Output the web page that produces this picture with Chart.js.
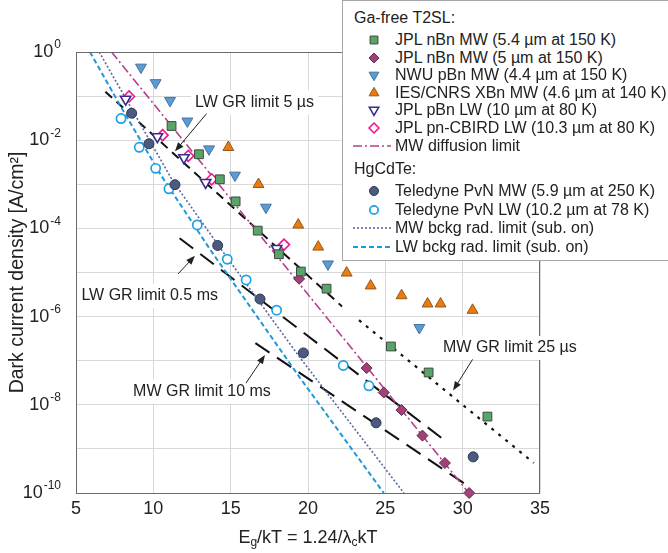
<!DOCTYPE html>
<html>
<head>
<meta charset="utf-8">
<script src="https://cdn.jsdelivr.net/npm/chart.js@4.4.0/dist/chart.umd.min.js"></script>
<style>
  html, body { margin: 0; padding: 0; background: #fff; }
  #wrap { position: relative; width: 668px; height: 553px; font-family: "Liberation Sans", Arial, sans-serif; }
  #legend { position: absolute; left: 342px; top: 0px; width: 340px; height: 261px; background: #fff;
            border: 1px solid #a6a6a6; box-sizing: border-box; color: #222; font-size: 16px; }
  #legend .row { position: absolute; left: 0; height: 18px; line-height: 18px; white-space: nowrap; }
  #legend .hdr { left: 11px; }
  #legend canvas { position: absolute; left: 8px; top: 0; }
  #legend .txt { position: absolute; left: 52px; top: 0; }
</style>
</head>
<body>
<div id="wrap">
  <canvas id="jChart" width="668" height="553"></canvas>
  <div id="legend"></div>
</div>
<script>
// axis ticks
const xTicks = [5, 10, 15, 20, 25, 30, 35];
const yDecades = [1, 1e-1, 1e-2, 1e-3, 1e-4, 1e-5, 1e-6, 1e-7, 1e-8, 1e-9, 1e-10];
const yLabelExp = [0, -2, -4, -6, -8, -10];

// Ga-free T2SL
const jplSqX = [11.18, 12.95, 14.3, 15.32, 16.75, 18.12, 19.54, 21.2, 25.36, 27.8, 31.6];
const jplSqY = [2.1e-2, 4.8e-3, 1.3e-3, 4.1e-4, 8.9e-5, 2.6e-5, 1.05e-5, 4.3e-6, 2.1e-7, 5.4e-8, 5.4e-9];
const jplDiaX = [19.43, 23.79, 24.9, 26.05, 27.4, 28.85, 30.42];
const jplDiaY = [7.2e-6, 6.8e-8, 1.9e-8, 7.6e-9, 2.0e-9, 4.8e-10, 1.0e-10];
const nwuX = [9.2, 10.15, 11.08, 12.2, 13.6, 15.28, 17.28, 21.29, 27.2];
const nwuY = [4.5e-1, 2.0e-1, 7.9e-2, 2.7e-2, 6.3e-3, 1.6e-3, 3.0e-4, 1.55e-5, 5.6e-7];
const iesX = [14.85, 16.8, 19.37, 20.66, 22.5, 24.05, 26.05, 27.73, 28.57, 30.64];
const iesY = [6.9e-3, 1.0e-3, 1.2e-4, 3.8e-5, 9.8e-6, 5.0e-6, 3.0e-6, 1.95e-6, 1.95e-6, 1.4e-6];
const pbnX = [8.21, 10.26, 11.98, 13.38, 17.97];
const pbnY = [8.5e-2, 1.2e-2, 4.0e-3, 1.1e-3, 3.5e-5];
const cbirdX = [8.43, 10.6, 12.26, 13.77, 18.45];
const cbirdY = [9.8e-2, 1.3e-2, 4.4e-3, 1.3e-3, 4.3e-5];
const mwDiffX = [7.3, 30.4];
const mwDiffY = [1, 1e-10];

// HgCdTe
const tdyMwX = [8.6, 9.72, 11.4, 14.16, 16.9, 19.7, 24.4, 30.68];
const tdyMwY = [4.1e-2, 8.3e-3, 9.8e-4, 4.1e-5, 2.5e-6, 1.5e-7, 3.9e-9, 6.6e-10];
const tdyLwX = [7.91, 9.09, 10.15, 11.01, 12.84, 14.78, 16.0, 17.97, 22.28, 23.94];
const tdyLwY = [3.1e-2, 6.9e-3, 2.3e-3, 7.9e-4, 1.2e-4, 2.0e-5, 6.8e-6, 1.4e-6, 7.8e-8, 2.7e-8];
const mwBkgX = [6.5, 11.25, 14.4, 19.5, 26.2];
const mwBkgY = [1, 1.2e-3, 3.3e-5, 1.15e-7, 1e-10];
const lwBkgX = [5.9, 8.0, 10.5, 13.7, 19.5, 24.9];
const lwBkgY = [1, 5e-2, 1.6e-3, 3.2e-5, 4e-8, 1e-10];

// GR limits
const lwGr5usX = [6.9, 22.2];
const lwGr5usY = [1.26e-1, 1.7e-6];
const mwGr25usX = [23.3, 34.6];
const mwGr25usY = [8.3e-7, 4.8e-10];
const lwGr05msX = [11.7, 28.8];
const lwGr05msY = [6.0e-5, 1.6e-9];
const mwGr10msX = [16.6, 30.4];
const mwGr10msY = [2.5e-7, 1.4e-10];

// text labels with arrows: [text, textX, textY, align, tailX, tailY, headX, headY]
const notes = [
    ['LW GR limit 5 µs', 12.69, 7.2e-2, 'left', 13.44, 4.0e-2, 11.4, 5.6e-3],
    ['LW GR limit 0.5 ms', 14.18, 2.95e-6, 'right', 11.6, 9.3e-6, 12.69, 2.4e-5],
    ['MW GR limit 10 ms', 8.69, 2.0e-8, 'left', 15.99, 3.1e-8, 17.22, 1.35e-7],
    ['MW GR limit 25 µs', 28.73, 1.95e-7, 'left', 30.64, 1.07e-7, 29.38, 2.1e-8]
];

function pts(xs, ys) {
    return xs.map((x, i) => ({ x: x, y: ys[i] }));
}

function marker(label, xs, ys, style, fill, border, radius, rot, bw, extra) {
    return Object.assign({
        label: label,
        data: pts(xs, ys),
        showLine: false,
        pointStyle: style,
        pointRotation: rot || 0,
        pointRadius: radius,
        pointHoverRadius: radius,
        backgroundColor: fill,
        borderColor: border,
        pointBorderWidth: bw || 1,
        order: 0
    }, extra || {});
}

function line(label, xs, ys, color, width, dash) {
    return {
        label: label,
        data: pts(xs, ys),
        showLine: true,
        pointRadius: 0,
        borderColor: color,
        borderWidth: width,
        borderDash: dash,
        fill: false,
        order: 1
    };
}

const sq = marker('JPL nBn MW (5.4 µm at 150 K)', jplSqX, jplSqY, 'rect', '#5aa469', '#3c4a40', 6.2);
const dia = marker('JPL nBn MW (5 µm at 150 K)', jplDiaX, jplDiaY, 'rectRot', '#a3407a', '#5e2a4a', 5.5, 0, 1, { clip: false });
const nwu = marker('NWU pBn MW (4.4 µm at 150 K)', nwuX, nwuY, 'triangle', '#5b9bd5', '#44729e', 6.3, 180);
const ies = marker('IES/CNRS XBn MW (4.6 µm at 140 K)', iesX, iesY, 'triangle', '#ee7a0c', '#8a5a24', 6.3);
const pbn = marker('JPL pBn LW (10 µm at 80 K)', pbnX, pbnY, 'triangle', '#ffffff', '#3a2c8c', 6, 180, 1.6);
const cbird = marker('JPL pn-CBIRD LW (10.3 µm at 80 K)', cbirdX, cbirdY, 'rectRot', '#ffffff', '#f0188e', 5.5, 0, 1.6);
const mwDiff = line('MW diffusion limit', mwDiffX, mwDiffY, '#b4418a', 1.6, [9, 3, 2, 3]);
const tdyMw = marker('Teledyne PvN MW (5.9 µm at 250 K)', tdyMwX, tdyMwY, 'circle', '#4b5a80', '#2e3750', 5);
const tdyLw = marker('Teledyne PvN LW (10.2 µm at 78 K)', tdyLwX, tdyLwY, 'circle', '#ffffff', '#1ca0e4', 4.6, 0, 1.7);
const mwBkg = line('MW bckg rad. limit (sub. on)', mwBkgX, mwBkgY, '#5a68a0', 1.6, [2, 2]);
const lwBkg = line('LW bckg rad. limit (sub. on)', lwBkgX, lwBkgY, '#1e98d8', 2, [5, 3]);

const grLines = [
    line('LW GR limit 5 µs', lwGr5usX, lwGr5usY, '#111', 2, [9, 6]),
    line('MW GR limit 25 µs', mwGr25usX, mwGr25usY, '#111', 2.2, [3, 6]),
    line('LW GR limit 0.5 ms', lwGr05msX, lwGr05msY, '#111', 2, [17, 9]),
    line('MW GR limit 10 ms', mwGr10msX, mwGr10msY, '#111', 2, [17, 9])
];

const legendGroups = [
    ['Ga-free T2SL:', [sq, dia, nwu, ies, pbn, cbird, mwDiff], 17.6],
    ['HgCdTe:', [tdyMw, tdyLw, mwBkg, lwBkg], 18.5]
];

// frame, ticks with exponents, axis titles and labels
const decorPlugin = {
    id: 'decor',
    afterDraw(chart) {
        const c = chart.ctx;
        const a = chart.chartArea;
        const xs = chart.scales.x;
        const ys = chart.scales.y;
        c.save();
        c.strokeStyle = '#6b6b6b';
        c.lineWidth = 1;
        c.strokeRect(a.left + 0.5, a.top + 0.5, a.right - a.left - 1, a.bottom - a.top);

        c.fillStyle = '#222';
        c.textBaseline = 'middle';
        c.font = '18px "Liberation Sans", Arial, sans-serif';
        c.textAlign = 'center';
        xTicks.forEach(v => c.fillText(String(v), xs.getPixelForValue(v), a.bottom + 16));

        yLabelExp.forEach(e => {
            const py = ys.getPixelForValue(Math.pow(10, e));
            c.font = '12px "Liberation Sans", Arial, sans-serif';
            c.textAlign = 'right';
            const ew = c.measureText(String(e)).width;
            c.fillText(String(e), 61, py - 7);
            c.font = '18px "Liberation Sans", Arial, sans-serif';
            c.fillText('10', 61 - ew - 1, py);
        });

        // y title
        c.save();
        c.translate(18, (a.top + a.bottom) / 2);
        c.rotate(-Math.PI / 2);
        c.textAlign = 'center';
        c.font = '19.5px "Liberation Sans", Arial, sans-serif';
        c.fillText('Dark current density [A/cm²]', 0, 0);
        c.restore();

        // x title with subscripts
        const parts = [['E', 0], ['g', 1], ['/kT = 1.24/λ', 0], ['c', 1], ['kT', 0]];
        const big = '18px "Liberation Sans", Arial, sans-serif';
        const small = '12px "Liberation Sans", Arial, sans-serif';
        let tw = 0;
        parts.forEach(p => { c.font = p[1] ? small : big; tw += c.measureText(p[0]).width; });
        let tx = (a.left + a.right) / 2 - tw / 2;
        c.textAlign = 'left';
        parts.forEach(p => {
            c.font = p[1] ? small : big;
            c.fillText(p[0], tx, a.bottom + 45 + (p[1] ? 5 : 0));
            tx += c.measureText(p[0]).width;
        });

        // labels and arrows
        c.font = '16px "Liberation Sans", Arial, sans-serif';
        notes.forEach(n => {
            const px = xs.getPixelForValue(n[1]);
            const py = ys.getPixelForValue(n[2]);
            const w = c.measureText(n[0]).width;
            const left = n[3] === 'left' ? px : px - w;
            c.fillStyle = '#fff';
            c.fillRect(left - 4, py - 12, w + 8, 24);
            c.fillStyle = '#222';
            c.textAlign = 'left';
            c.fillText(n[0], left, py);

            const x0 = xs.getPixelForValue(n[4]), y0 = ys.getPixelForValue(n[5]);
            const x1 = xs.getPixelForValue(n[6]), y1 = ys.getPixelForValue(n[7]);
            const ang = Math.atan2(y1 - y0, x1 - x0);
            c.strokeStyle = '#222';
            c.lineWidth = 1;
            c.beginPath();
            c.moveTo(x0, y0);
            c.lineTo(x1 - 6 * Math.cos(ang), y1 - 6 * Math.sin(ang));
            c.stroke();
            c.beginPath();
            c.moveTo(x1, y1);
            c.lineTo(x1 - 9 * Math.cos(ang) + 3.5 * Math.sin(ang), y1 - 9 * Math.sin(ang) - 3.5 * Math.cos(ang));
            c.lineTo(x1 - 9 * Math.cos(ang) - 3.5 * Math.sin(ang), y1 - 9 * Math.sin(ang) + 3.5 * Math.cos(ang));
            c.closePath();
            c.fill();
        });
        c.restore();
    }
};

const ctx = document.getElementById('jChart').getContext('2d');
const chart = new Chart(ctx, {
    type: 'scatter',
    data: {
        datasets: [sq, dia, nwu, ies, pbn, cbird, tdyMw, tdyLw, mwDiff, mwBkg, lwBkg].concat(grLines)
    },
    options: {
        responsive: false,
        animation: false,
        events: [],
        layout: { padding: { left: 76, right: 128, top: 52, bottom: 60 } },
        plugins: { legend: { display: false }, tooltip: { enabled: false } },
        scales: {
            x: {
                type: 'linear',
                min: 5,
                max: 35,
                afterBuildTicks: s => { s.ticks = xTicks.map(v => ({ value: v })); },
                ticks: { display: false },
                grid: { color: '#d9d9d9', drawTicks: false },
                border: { display: false }
            },
            y: {
                type: 'logarithmic',
                min: 1e-10,
                max: 1,
                afterBuildTicks: s => { s.ticks = yDecades.map(v => ({ value: v })); },
                ticks: { display: false },
                grid: { color: '#d9d9d9', drawTicks: false },
                border: { display: false }
            }
        }
    },
    plugins: [decorPlugin]
});

// legend with section headings
function drawSymbol(cv, ds) {
    const g = cv.getContext('2d');
    const cx = 23, cy = 9;
    if (ds.showLine) {
        g.strokeStyle = ds.borderColor;
        g.lineWidth = ds.borderWidth;
        g.setLineDash(ds.borderDash);
        g.beginPath();
        g.moveTo(2, cy);
        g.lineTo(40, cy);
        g.stroke();
        return;
    }
    const r = ds.pointRadius * 0.9;
    g.fillStyle = ds.backgroundColor;
    g.strokeStyle = ds.borderColor;
    g.lineWidth = ds.pointBorderWidth;
    g.beginPath();
    if (ds.pointStyle === 'rect') {
        const s = r * Math.SQRT1_2;
        g.rect(cx - s, cy - s, 2 * s, 2 * s);
    } else if (ds.pointStyle === 'rectRot') {
        g.moveTo(cx, cy - r); g.lineTo(cx + r, cy); g.lineTo(cx, cy + r); g.lineTo(cx - r, cy); g.closePath();
    } else if (ds.pointStyle === 'triangle') {
        const d = ds.pointRotation ? -1 : 1;
        g.moveTo(cx, cy - d * r);
        g.lineTo(cx + r * 0.866, cy + d * r * 0.5);
        g.lineTo(cx - r * 0.866, cy + d * r * 0.5);
        g.closePath();
    } else {
        g.arc(cx, cy, r, 0, Math.PI * 2);
    }
    g.fill();
    g.stroke();
}

const legendEl = document.getElementById('legend');
let rowTop = 8;
legendGroups.forEach((grp, gi) => {
    if (gi > 0) rowTop += 6;
    const h = document.createElement('div');
    h.className = 'row hdr';
    h.style.top = rowTop + 'px';
    h.textContent = grp[0];
    legendEl.appendChild(h);
    rowTop += 22;
    grp[1].forEach(ds => {
        const r = document.createElement('div');
        r.className = 'row';
        r.style.top = rowTop + 'px';
        r.style.width = '330px';
        const cv = document.createElement('canvas');
        cv.width = 44; cv.height = 18;
        drawSymbol(cv, ds);
        r.appendChild(cv);
        const t = document.createElement('span');
        t.className = 'txt';
        t.textContent = ds.label;
        r.appendChild(t);
        legendEl.appendChild(r);
        rowTop += grp[2];
    });
});
</script>
</body>
</html>
